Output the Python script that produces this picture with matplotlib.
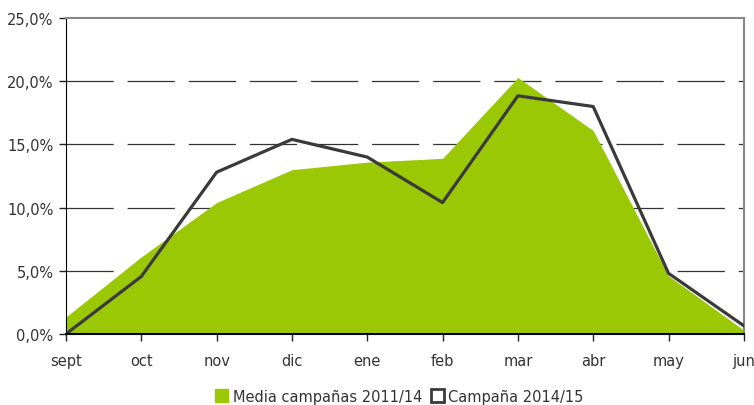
import matplotlib
matplotlib.use("Agg")
import matplotlib.pyplot as plt
from matplotlib.patches import Patch

months = ["sept", "oct", "nov", "dic", "ene", "feb", "mar", "abr", "may", "jun"]
media_2011_14 = [1.35, 6.1, 10.4, 13.0, 13.6, 13.9, 20.3, 16.1, 4.6, 0.3]
campana_2014_15 = [0.0, 4.55, 12.8, 15.4, 14.0, 10.4, 18.85, 18.0, 4.8, 0.65]
yticks = [0, 5, 10, 15, 20, 25]

plt.rcParams["lines.scale_dashes"] = False
plt.rcParams["font.family"] = ["DejaVu Sans"]

green = "#9BC805"
dark = "#3a3a3a"

fig = plt.figure(figsize=(7.54, 4.06), dpi=100)
ax = fig.add_axes([0.0875, 0.175, 0.899, 0.778])

x = list(range(len(months)))
ax.fill_between(x, 0, media_2011_14, color=green, lw=0, zorder=2)
ax.plot(x, campana_2014_15, color=dark, lw=2.3, zorder=4)

# dashed horizontal guides
for v in yticks[1:-1]:
    ax.axhline(v, color="#333333", lw=0.9, ls=(0, (34, 10)), zorder=1)

ax.set_xlim(0, len(months) - 1)
ax.set_ylim(0, 25)
ax.set_xticks(x)
ax.set_xticklabels(months)
ax.set_yticks(yticks)
ax.set_yticklabels([f"{v:.1f}%".replace(".", ",") for v in yticks])
ax.tick_params(axis="both", labelsize=10.5, colors="#222222", labelcolor="#333333",
               length=5, width=1)
ax.tick_params(axis="x", pad=9)
ax.tick_params(axis="y", pad=4)

ax.spines["left"].set_color("black")
ax.spines["bottom"].set_color("black")
ax.spines["bottom"].set_linewidth(1.5)
ax.spines["bottom"].set_zorder(5)
ax.spines["top"].set_color("#888888")
ax.spines["right"].set_color("#888888")
ax.spines["top"].set_linewidth(1.5)
ax.spines["right"].set_linewidth(1.5)

handles = [
    Patch(facecolor=green, edgecolor=green, label="Media campañas 2011/14"),
    Patch(facecolor="white", edgecolor=dark, lw=2, label="Campaña 2014/15"),
]
fig.legend(handles=handles, loc="center", bbox_to_anchor=(0.53, 0.022), ncol=2,
           frameon=False, fontsize=10.5, handlelength=0.9, handleheight=0.9,
           handletextpad=0.3, columnspacing=0.6, labelcolor="#333333")

fig.savefig("out.png", dpi=100)
